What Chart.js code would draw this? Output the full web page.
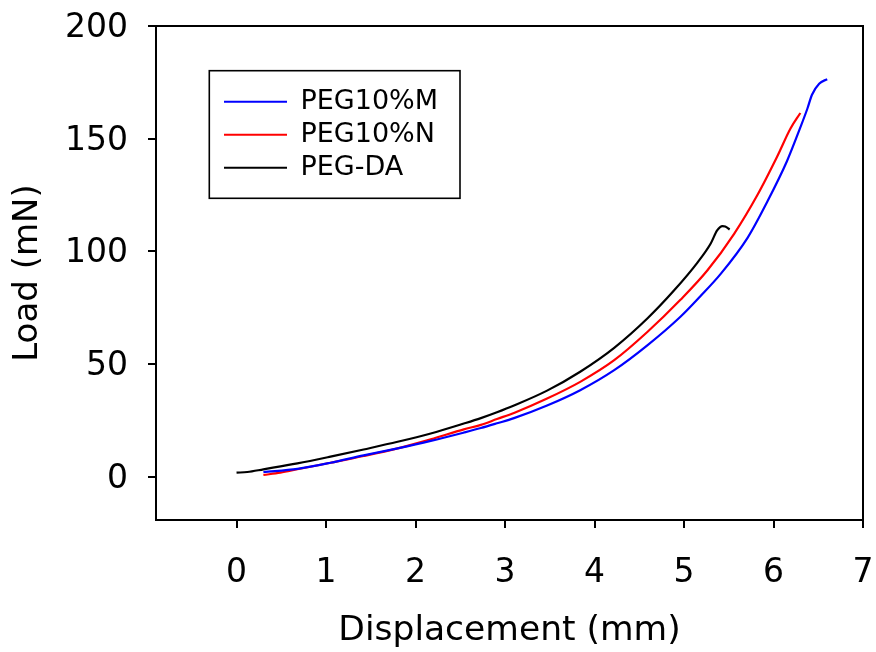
<!DOCTYPE html>
<html>
<head>
<meta charset="utf-8">
<script src="https://cdn.jsdelivr.net/npm/chart.js@4"></script>
<style>
html,body{margin:0;padding:0;background:#fff;}
#wrap{width:876px;height:652px;position:relative;}
</style>
</head>
<body>
<div id="wrap"><canvas id="c"></canvas></div>
<script>
// ---- data ----
const seriesNames = ['PEG10%M', 'PEG10%N', 'PEG-DA'];
const seriesColors = ['#0000ff', '#ff0000', '#000000'];

const dispM = [0.30, 0.68, 1.05, 1.42, 1.80, 2.17, 2.54, 2.73, 2.91, 3.10, 3.47, 3.84, 4.22, 4.59, 4.96, 5.18, 5.41, 5.71, 5.93, 6.15, 6.30, 6.38, 6.43, 6.51, 6.60];
const loadM = [2.1, 3.5, 6.2, 9.5, 12.6, 15.9, 19.6, 21.6, 23.7, 26.0, 31.6, 38.4, 47.3, 58.3, 71.0, 80.0, 90.0, 106.0, 122.0, 140.0, 155.0, 163.5, 169.5, 174.4, 176.4];

const dispN = [0.30, 0.49, 0.68, 1.05, 1.42, 1.80, 2.17, 2.54, 2.73, 2.91, 3.10, 3.47, 3.84, 4.22, 4.59, 4.96, 5.26, 5.56, 5.82, 6.04, 6.19, 6.30];
const loadN = [0.8, 1.8, 3.3, 6.2, 9.2, 12.6, 16.6, 21.0, 23.0, 25.6, 28.3, 34.7, 42.1, 51.7, 64.2, 78.5, 91.5, 107.8, 125.0, 142.0, 154.5, 161.4];

const dispDA = [0.00, 0.12, 0.30, 0.68, 1.05, 1.42, 1.80, 2.17, 2.54, 2.73, 2.91, 3.10, 3.47, 3.84, 4.22, 4.59, 4.89, 5.15, 5.30, 5.37, 5.43, 5.46, 5.51];
const loadDA = [1.8, 2.1, 3.3, 5.9, 8.9, 12.1, 15.5, 19.2, 23.6, 26.0, 28.6, 31.6, 38.2, 46.6, 57.2, 70.2, 82.7, 95.0, 103.6, 109.3, 111.2, 111.0, 109.7];

const xTicks = [0, 1, 2, 3, 4, 5, 6, 7];
const yTicks = [0, 50, 100, 150, 200];
const xTitle = 'Displacement (mm)';
const yTitle = 'Load (mN)';

// ---- chart ----
Chart.defaults.font.family = "'DejaVu Sans', Verdana, sans-serif";
Chart.defaults.color = '#000';

function pts(xs, ys) { return xs.map((x, i) => ({x: x, y: ys[i]})); }

const seriesData = [pts(dispM, loadM), pts(dispN, loadN), pts(dispDA, loadDA)];

function noPad(s) { s.paddingTop = 0; s.paddingBottom = 0; s.paddingLeft = 0; s.paddingRight = 0; }

const framePlugin = {
  id: 'frames',
  afterLayout(chart) {
    const lg = chart.legend, ca = chart.chartArea;
    if (lg) {
      const w = lg.width;
      lg.left = ca.left + 62;
      lg.top = ca.top + 56.2;
      lg.right = lg.left + w;
      lg.bottom = lg.top + 300;
    }
  },
  afterDraw(chart) {
    const ctx = chart.ctx, ca = chart.chartArea;
    ctx.save();
    ctx.strokeStyle = '#000';
    ctx.lineWidth = 2;
    ctx.strokeRect(ca.left, ca.top, ca.right - ca.left, ca.bottom - ca.top);
    ctx.lineWidth = 1.6;
    ctx.strokeRect(ca.left + 53.3, ca.top + 44.7, 250.7, 127.6);
    ctx.restore();
  }
};

new Chart(document.getElementById('c'), {
  type: 'scatter',
  data: {
    datasets: seriesNames.map((name, i) => ({
      label: name,
      data: seriesData[i],
      showLine: true,
      borderColor: seriesColors[i],
      backgroundColor: seriesColors[i],
      borderWidth: 2.2,
      pointRadius: 0,
      pointHoverRadius: 0,
      fill: false,
      cubicInterpolationMode: 'monotone'
    }))
  },
  options: {
    responsive: true,
    maintainAspectRatio: false,
    animation: false,
    devicePixelRatio: 1,
    layout: { padding: { top: 26, right: 13, left: 0, bottom: 0 } },
    plugins: {
      tooltip: { enabled: false },
      legend: {
        display: true,
        position: 'chartArea',
        align: 'start',
        labels: {
          font: { size: 27 },
          color: '#000',
          boxWidth: 63,
          boxHeight: 2,
          padding: 6,
          generateLabels: (chart) => Chart.defaults.plugins.legend.labels.generateLabels(chart)
            .map(l => Object.assign({}, l, { fillStyle: l.strokeStyle, lineWidth: 0 }))
        }
      }
    },
    scales: {
      x: {
        type: 'linear',
        min: -0.9,
        max: 7,
        afterBuildTicks: (s) => { s.ticks = xTicks.map(v => ({ value: v })); },
        afterFit: (s) => { s.height = 132; noPad(s); },
        ticks: { font: { size: 33 }, color: '#000', padding: 26, maxRotation: 0, autoSkip: false },
        grid: { drawOnChartArea: false, drawTicks: true, tickLength: 8, color: '#000', lineWidth: 2 },
        border: { display: true, color: '#000', width: 2 },
        title: { display: true, text: xTitle, font: { size: 34.5 }, color: '#000', padding: { top: 0, bottom: 0 } }
      },
      y: {
        type: 'linear',
        min: -19.2,
        max: 200,
        afterBuildTicks: (s) => { s.ticks = yTicks.map(v => ({ value: v })); },
        afterFit: (s) => { s.width = 156; noPad(s); },
        ticks: { font: { size: 33 }, color: '#000', padding: 20, autoSkip: false, labelOffset: 2.5 },
        grid: { drawOnChartArea: false, drawTicks: true, tickLength: 8, color: '#000', lineWidth: 2 },
        border: { display: true, color: '#000', width: 2 },
        title: { display: true, text: yTitle, font: { size: 34 }, color: '#000', padding: { top: 8, bottom: 0 } }
      }
    }
  },
  plugins: [framePlugin]
});
</script>
</body>
</html>
